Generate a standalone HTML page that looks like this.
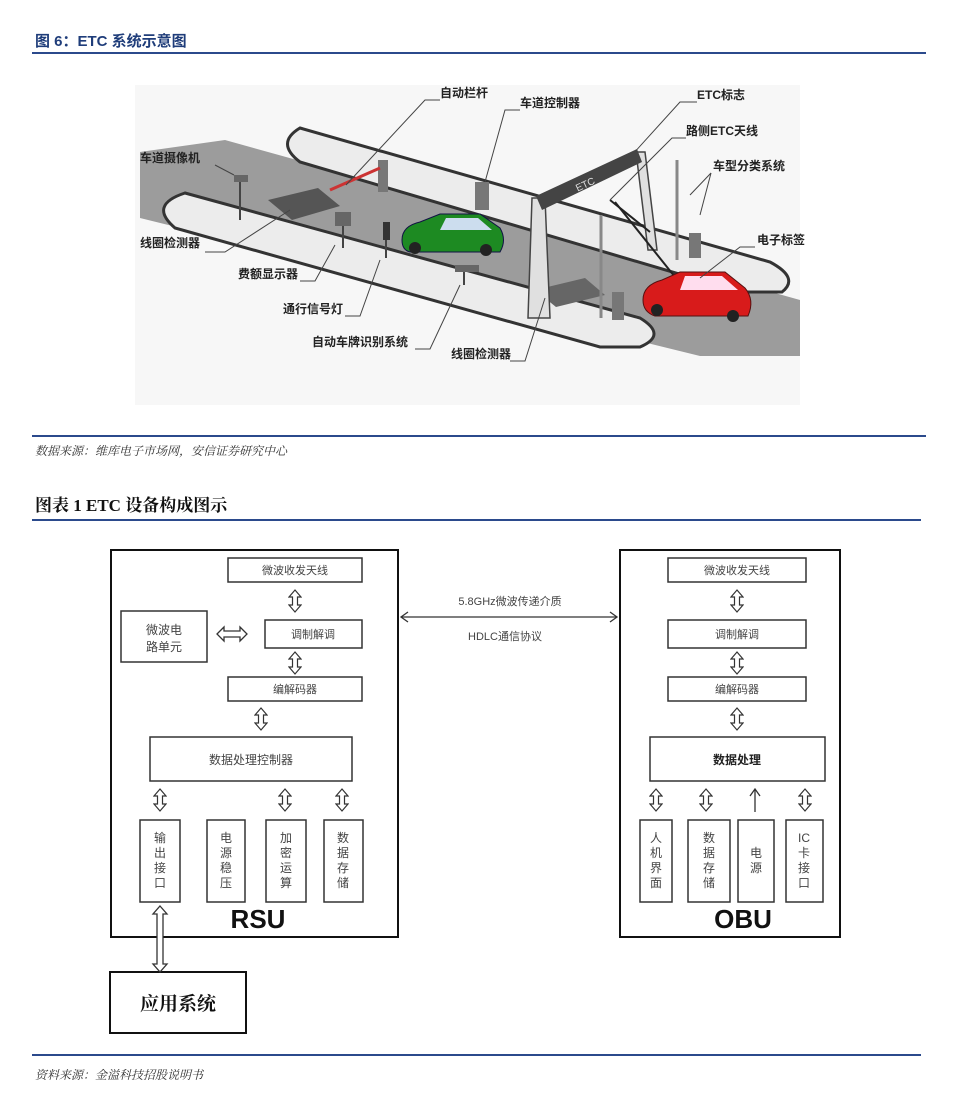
<!DOCTYPE html>
<html><head><meta charset="utf-8"><style>
html,body{margin:0;padding:0;background:#fff}
svg{display:block}
</style></head><body>
<svg width="957" height="1107" viewBox="0 0 957 1107" xmlns="http://www.w3.org/2000/svg" font-family="'Liberation Sans','Noto Sans CJK SC',sans-serif">
<defs>
<symbol id="va" viewBox="0 0 14 24"><polygon points="7,1 13,8 9.5,8 9.5,16 13,16 7,23 1,16 4.5,16 4.5,8 1,8" fill="#fff" stroke="#333" stroke-width="1.2"/></symbol>
</defs>
<!-- header -->
<text x="35" y="46" font-size="15" font-weight="bold" fill="#1f3d7a" font-family="'Liberation Sans','Noto Sans CJK SC',sans-serif">图 6：ETC 系统示意图</text>
<rect x="32" y="52" width="894" height="2" fill="#2b4a8c"/>

<!-- illustration -->
<rect x="135" y="85" width="665" height="320" fill="#f7f7f7"/>
<polygon points="140,152 225,140 800,300 800,356 700,356 140,218" fill="#9c9c9c"/>
<path d="M300,128 L770,262 Q800,278 782,292 L740,292 L300,162 Q275,143 300,128 Z" fill="#ececec" stroke="#333" stroke-width="3"/>
<path d="M185,193 L640,318 Q668,335 640,347 L600,347 L175,228 Q148,205 185,193 Z" fill="#ececec" stroke="#333" stroke-width="3"/>
<polygon points="268,200 318,188 340,206 292,220" fill="#555"/>
<polygon points="535,290 585,278 605,295 556,307" fill="#666"/>
<!-- barrier -->
<rect x="378" y="160" width="10" height="32" fill="#777"/>
<line x1="380" y1="168" x2="330" y2="190" stroke="#c33" stroke-width="3"/>
<!-- controller -->
<rect x="475" y="182" width="14" height="28" fill="#777"/>
<!-- camera -->
<rect x="234" y="175" width="14" height="7" fill="#666"/><line x1="240" y1="182" x2="240" y2="220" stroke="#444" stroke-width="2"/>
<!-- display -->
<rect x="335" y="212" width="16" height="14" fill="#666"/><line x1="343" y1="226" x2="343" y2="248" stroke="#444" stroke-width="2"/>
<!-- signal light -->
<rect x="383" y="222" width="7" height="18" fill="#333"/><line x1="386" y1="240" x2="386" y2="258" stroke="#444" stroke-width="2"/>
<!-- plate camera -->
<rect x="455" y="265" width="24" height="7" fill="#666"/><line x1="464" y1="272" x2="464" y2="285" stroke="#444" stroke-width="2"/>
<!-- gantry -->
<polygon points="532,198 545,198 550,318 528,318" fill="#e0e0e0" stroke="#444" stroke-width="1.5"/>
<polygon points="636,152 645,152 657,250 648,250" fill="#e0e0e0" stroke="#444" stroke-width="1.5"/>
<polygon points="536,196 637,149 642,162 542,210" fill="#444"/>
<text x="575" y="190" font-size="10" fill="#ddd" transform="rotate(-25 580 185)">ETC</text>
<line x1="610" y1="200" x2="650" y2="232" stroke="#222" stroke-width="2"/>
<line x1="615" y1="202" x2="675" y2="277" stroke="#222" stroke-width="2"/>
<line x1="601" y1="215" x2="601" y2="318" stroke="#888" stroke-width="3"/>
<line x1="677" y1="160" x2="677" y2="260" stroke="#888" stroke-width="3"/>
<rect x="689" y="233" width="12" height="25" fill="#777"/>
<rect x="612" y="292" width="12" height="28" fill="#777"/>
<!-- green car -->
<path d="M402,240 Q402,226 420,222 L440,214 L480,214 L500,228 Q507,240 500,252 L410,252 Q402,250 402,240 Z" fill="#1d8a22" stroke="#114" stroke-width="1"/>
<polygon points="446,218 478,218 492,230 440,230" fill="#cde"/>
<circle cx="415" cy="248" r="6" fill="#222"/><circle cx="486" cy="250" r="6" fill="#222"/>
<!-- red car -->
<path d="M643,300 Q643,285 662,280 L680,272 L725,272 L745,288 Q755,300 748,316 L655,316 Q643,312 643,300 Z" fill="#d81b1b" stroke="#511" stroke-width="1"/>
<polygon points="685,276 722,276 738,290 680,290" fill="#fde"/>
<circle cx="657" cy="310" r="6" fill="#222"/><circle cx="733" cy="316" r="6" fill="#222"/>
<!-- leader lines -->
<g stroke="#444" stroke-width="1" fill="none">
<polyline points="440,100 425,100 346,185"/>
<polyline points="520,110 505,110 485,182"/>
<polyline points="697,102 680,102 632,155"/>
<polyline points="686,138 672,138 610,200"/>
<polyline points="215,165 234,175"/>
<polyline points="711,173 690,195"/><polyline points="711,173 700,215"/>
<polyline points="205,252 225,252 290,210"/>
<polyline points="755,247 740,247 700,278"/>
<polyline points="300,281 315,281 335,245"/>
<polyline points="345,316 360,316 380,260"/>
<polyline points="415,349 430,349 460,285"/>
<polyline points="510,361 525,361 545,298"/>
</g>
<g font-size="12" font-weight="bold" fill="#222">
<text x="440" y="97">自动栏杆</text>
<text x="520" y="107">车道控制器</text>
<text x="697" y="99">ETC标志</text>
<text x="686" y="135">路侧ETC天线</text>
<text x="140" y="162">车道摄像机</text>
<text x="713" y="170">车型分类系统</text>
<text x="140" y="247">线圈检测器</text>
<text x="757" y="244">电子标签</text>
<text x="238" y="278">费额显示器</text>
<text x="283" y="313">通行信号灯</text>
<text x="312" y="346">自动车牌识别系统</text>
<text x="451" y="358">线圈检测器</text>
</g>

<rect x="32" y="435" width="894" height="2" fill="#2b4a8c"/>
<text x="35" y="455" font-size="12" font-style="italic" fill="#333" font-family="'Liberation Serif','Noto Serif CJK SC',serif">数据来源：维库电子市场网，安信证券研究中心</text>

<text x="35" y="511" font-size="17" font-weight="bold" fill="#111" font-family="'Liberation Serif','Noto Serif CJK SC',serif">图表 1  ETC 设备构成图示</text>
<rect x="32" y="519" width="889" height="2" fill="#2b4a8c"/>

<!-- diagram -->
<g fill="none" stroke="#111">
<rect x="111" y="550" width="287" height="387" stroke-width="2"/>
<rect x="620" y="550" width="220" height="387" stroke-width="2"/>
<g stroke-width="1.5" stroke="#333">
<rect x="228" y="558" width="134" height="24"/>
<rect x="265" y="620" width="97" height="28"/>
<rect x="121" y="611" width="86" height="51"/>
<rect x="228" y="677" width="134" height="24"/>
<rect x="150" y="737" width="202" height="44"/>
<rect x="140" y="820" width="40" height="82"/>
<rect x="207" y="820" width="38" height="82"/>
<rect x="266" y="820" width="40" height="82"/>
<rect x="324" y="820" width="39" height="82"/>
<rect x="668" y="558" width="138" height="24"/>
<rect x="668" y="620" width="138" height="28"/>
<rect x="668" y="677" width="138" height="24"/>
<rect x="650" y="737" width="175" height="44"/>
<rect x="640" y="820" width="32" height="82"/>
<rect x="688" y="820" width="42" height="82"/>
<rect x="738" y="820" width="36" height="82"/>
<rect x="786" y="820" width="37" height="82"/>
</g>
<rect x="110" y="972" width="136" height="61" stroke-width="2"/>
</g>
<use href="#va" x="288" y="589" width="14" height="24"/>
<use href="#va" x="288" y="651" width="14" height="24"/>
<use href="#va" x="254" y="707" width="14" height="24"/>
<use href="#va" x="153" y="788" width="14" height="24"/>
<use href="#va" x="278" y="788" width="14" height="24"/>
<use href="#va" x="335" y="788" width="14" height="24"/>
<use href="#va" x="730" y="589" width="14" height="24"/>
<use href="#va" x="730" y="651" width="14" height="24"/>
<use href="#va" x="730" y="707" width="14" height="24"/>
<use href="#va" x="649" y="788" width="14" height="24"/>
<use href="#va" x="699" y="788" width="14" height="24"/>
<use href="#va" x="798" y="788" width="14" height="24"/>
<g stroke="#333" stroke-width="1.3" fill="none">
<line x1="755" y1="812" x2="755" y2="790"/><polyline points="750,796 755,789 760,796"/>
<polygon points="217,634 224,627 224,631 240,631 240,627 247,634 240,641 240,637 224,637 224,641" fill="#fff"/>
<polygon points="160,906 167,914 163,914 163,964 167,964 160,972 153,964 157,964 157,914 153,914" fill="#fff"/>
<line x1="401" y1="617" x2="617" y2="617"/>
<polyline points="408,612 401,617 408,622"/><polyline points="610,612 617,617 610,622"/>
</g>
<g font-size="11" fill="#444" text-anchor="middle">
<text x="295" y="574">微波收发天线</text>
<text x="313" y="638">调制解调</text>
<text x="295" y="693">编解码器</text>
<text x="251" y="764" font-size="12">数据处理控制器</text>
<text x="164" y="634" font-size="12">微波电</text>
<text x="164" y="651" font-size="12">路单元</text>
<text x="737" y="574">微波收发天线</text>
<text x="737" y="638">调制解调</text>
<text x="737" y="693">编解码器</text>
<text x="737" y="764" font-size="12" font-weight="bold" fill="#222">数据处理</text>
<text x="510" y="605">5.8GHz微波传递介质</text>
<text x="505" y="640">HDLC通信协议</text>
</g>
<g font-size="12" fill="#444" text-anchor="middle">
<text x="160" y="842">输</text><text x="160" y="857">出</text><text x="160" y="872">接</text><text x="160" y="887">口</text>
<text x="226" y="842">电</text><text x="226" y="857">源</text><text x="226" y="872">稳</text><text x="226" y="887">压</text>
<text x="286" y="842">加</text><text x="286" y="857">密</text><text x="286" y="872">运</text><text x="286" y="887">算</text>
<text x="343" y="842">数</text><text x="343" y="857">据</text><text x="343" y="872">存</text><text x="343" y="887">储</text>
<text x="656" y="842">人</text><text x="656" y="857">机</text><text x="656" y="872">界</text><text x="656" y="887">面</text>
<text x="709" y="842">数</text><text x="709" y="857">据</text><text x="709" y="872">存</text><text x="709" y="887">储</text>
<text x="756" y="857">电</text><text x="756" y="872">源</text>
<text x="804" y="842">IC</text><text x="804" y="857">卡</text><text x="804" y="872">接</text><text x="804" y="887">口</text>
</g>
<text x="258" y="928" font-size="26" font-weight="bold" fill="#111" text-anchor="middle">RSU</text>
<text x="743" y="928" font-size="26" font-weight="bold" fill="#111" text-anchor="middle">OBU</text>
<text x="178" y="1010" font-size="19" font-weight="bold" fill="#111" text-anchor="middle" font-family="'Liberation Serif','Noto Serif CJK SC',serif">应用系统</text>

<rect x="32" y="1054" width="889" height="2" fill="#2b4a8c"/>
<text x="35" y="1079" font-size="12" font-style="italic" fill="#333" font-family="'Liberation Serif','Noto Serif CJK SC',serif">资料来源：金溢科技招股说明书</text>
</svg>
</body></html>
